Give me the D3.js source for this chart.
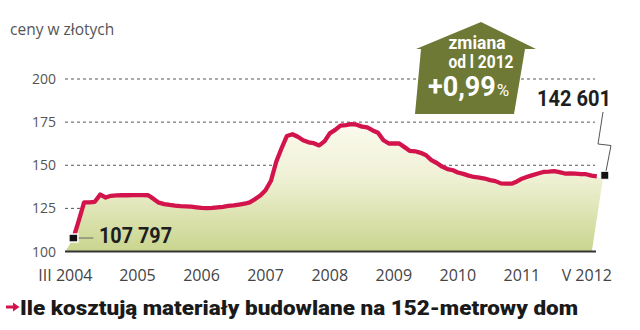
<!DOCTYPE html>
<html><head><meta charset="utf-8">
<script src="https://cdn.jsdelivr.net/npm/d3@7"></script>
<style>
html,body{margin:0;padding:0;background:#fff;}
svg{display:block;}
</style></head>
<body>
<svg id="chart" width="640" height="330"></svg>
<script>
// ---- data ----
const startMonth = "2004-03";
const endMonth = "2012-05";
const values = [107.8,118,128.5,128.5,128.8,133,131.3,132.3,132.5,132.6,
132.6,132.7,132.7,132.7,132.6,130.5,128.3,127.5,127,126.6,
126.3,126.2,126,125.6,125.3,125.2,125.3,125.6,125.9,126.4,
126.7,127.2,127.7,128.5,130.4,132.6,135.5,141,152,160,
167,168,166.5,164.5,163.3,162.8,161.5,164,168.5,170.5,
173,173.3,173.8,173.5,172.4,171.9,170.2,168.9,164.5,162.6,
162.6,162.6,160.5,158.3,158.1,157.2,155.8,153,151.3,149.2,
147.8,147.1,145.8,145,144,143.2,142.8,142.3,141.4,140.8,
139.5,139.4,139.3,140.6,142.2,143.3,144.3,145.2,146.1,146.3,
146.6,146,145.2,145.3,145.2,144.9,144.8,144,143.6];
const yTicks = [100,125,150,175,200];
const xTickDates = ["2004-03","2005-03","2006-03","2007-03","2008-03","2009-03","2010-03","2011-03","2012-05"];
const xTickLabels = ["III 2004","2005","2006","2007","2008","2009","2010","2011","V 2012"];
const startLabel = "107 797";
const endLabel = "142 601";
const yTitle = "ceny w złotych";
const title = "Ile kosztują materiały budowlane na 152-metrowy dom";
const badgeLines = ["zmiana","od l 2012"];
const badgeValue = "+0,99";

// ---- setup ----
const parse = d3.timeParse("%Y-%m");
const t0 = parse(startMonth), t1 = parse(endMonth);
const dates = d3.timeMonth.range(t0, d3.timeMonth.offset(t1,1));
const data = dates.map((d,i)=>({date:d, value:values[i]}));

const svg = d3.select("#chart");
const x = d3.scaleTime().domain([t0,t1]).range([73.4,596.8]);
const y = d3.scaleLinear().domain([100,200]).range([251.5,79]);

const RED = "#d3134b", OLIVE = "#6d7935", GREY = "#555";
const defs = svg.append("defs");
const grad = defs.append("linearGradient").attr("id","fillg")
  .attr("gradientUnits","userSpaceOnUse").attr("x1",0).attr("x2",0).attr("y1",y(175)).attr("y2",y(100));
grad.append("stop").attr("offset","0%").attr("stop-color","#fbfaf0");
grad.append("stop").attr("offset","45%").attr("stop-color","#eef0d2");
grad.append("stop").attr("offset","100%").attr("stop-color","#c9d58e");

// y title
svg.append("text").attr("x",10).attr("y",35).text(yTitle)
  .attr("font-family","'Open Sans',sans-serif").attr("font-size",15.5).attr("fill",GREY);

// gridlines
svg.append("g").selectAll("line").data(yTicks.filter(v=>v>100)).join("line")
  .attr("x1",65).attr("x2",595).attr("y1",d=>y(d)).attr("y2",d=>y(d))
  .attr("stroke","#555").attr("stroke-width",1).attr("stroke-dasharray","3,3");

// y labels
svg.append("g").selectAll("text").data(yTicks).join("text")
  .attr("x",56).attr("y",d=>y(d)+5).attr("text-anchor","end").text(d=>d)
  .attr("font-family","'Open Sans',sans-serif").attr("font-size",14).attr("fill",GREY);

// area
const last = data[data.length-1], first = data[0];
const pts = [[x(first.date)-8, y(100)]]
  .concat(data.map(d=>[x(d.date), y(d.value)]))
  .concat([[x(last.date)+6, y(last.value)+3],[x(last.date)-5, y(100)]]);
svg.append("path").attr("d", d3.line()(pts)+"Z").attr("fill","url(#fillg)");

// baseline
svg.append("line").attr("x1",65).attr("x2",596).attr("y1",y(100)).attr("y2",y(100))
  .attr("stroke","#333").attr("stroke-width",2.2);

// line
svg.append("path").datum(data)
  .attr("d", d3.line().x(d=>x(d.date)).y(d=>y(d.value)))
  .attr("fill","none").attr("stroke",RED).attr("stroke-width",4.3)
  .attr("stroke-linejoin","round");

// x labels
const xa = svg.append("g");
xTickDates.forEach((ds,i)=>{
  let dx = 0;
  if (i===0) dx = -8;
  if (i===xTickDates.length-1) dx = -10;
  xa.append("text").attr("x", x(parse(ds))+dx).attr("y",281).attr("text-anchor","middle")
    .text(xTickLabels[i]).attr("font-family","'Open Sans',sans-serif").attr("font-size",16).attr("fill","#444");
});

// start marker + label
const sx = x(first.date), sy = y(first.value);
svg.append("line").attr("x1",sx+4).attr("x2",sx+20).attr("y1",sy).attr("y2",sy).attr("stroke","#666").attr("stroke-width",1);
svg.append("rect").attr("x",sx-4.5).attr("y",sy-4).attr("width",9).attr("height",8)
  .attr("fill","#111").attr("stroke","#fff").attr("stroke-width",1.5);
svg.append("text").attr("x",99).attr("y",sy+5).text(startLabel)
  .attr("font-family","Roboto,sans-serif").attr("font-weight",700).attr("font-size",22)
  .attr("fill","#1e1e1e").attr("textLength",73).attr("lengthAdjust","spacingAndGlyphs");

// end marker + label with break line
const ex = x(last.date)+8, ey = y(last.value)-1;
svg.append("polyline").attr("points",[[603,112],[598,144],[611,145.5],[ex+1,ey-3]].map(p=>p.join(",")).join(" "))
  .attr("fill","none").attr("stroke","#555").attr("stroke-width",1);
svg.append("rect").attr("x",ex-4).attr("y",ey-4).attr("width",8).attr("height",8)
  .attr("fill","#111").attr("stroke","#fff").attr("stroke-width",1);
svg.append("text").attr("x",537).attr("y",106).text(endLabel)
  .attr("font-family","Roboto,sans-serif").attr("font-weight",700).attr("font-size",22)
  .attr("fill","#1e1e1e").attr("textLength",74).attr("lengthAdjust","spacingAndGlyphs");

// badge (house arrow)
const badge = [[481,22],[536,49],[525,49],[514,114],[415,114],[421,49],[416,49]];
svg.append("polygon").attr("points",badge.map(p=>p.join(",")).join(" ")).attr("fill",OLIVE);
svg.append("text").attr("x",477).attr("y",49).attr("text-anchor","middle").text(badgeLines[0])
  .attr("font-family","Roboto,sans-serif").attr("font-weight",700).attr("font-size",18).attr("fill","#fff")
  .attr("textLength",57).attr("lengthAdjust","spacingAndGlyphs");
svg.append("text").attr("x",481).attr("y",68).attr("text-anchor","middle").text(badgeLines[1])
  .attr("font-family","Roboto,sans-serif").attr("font-weight",700).attr("font-size",18).attr("fill","#fff")
  .attr("textLength",65).attr("lengthAdjust","spacingAndGlyphs");
const pct = svg.append("text").attr("x",428).attr("y",96)
  .attr("font-family","Roboto,sans-serif").attr("fill","#fff");
pct.append("tspan").attr("font-weight",700).attr("font-size",27).text(badgeValue);
pct.append("tspan").attr("font-weight",400).attr("font-size",17).attr("dx",1).text("%");

// title with arrow
svg.append("path").attr("d","M6,305.5 L13,305.5 L13,302.5 L19.5,307 L13,311.5 L13,308.5 L6,308.5 Z").attr("fill",RED);
svg.append("text").attr("x",20).attr("y",315).text(title)
  .attr("font-family","Roboto,sans-serif").attr("font-weight",900).attr("font-size",21)
  .attr("fill","#1a1a1a").attr("textLength",558).attr("lengthAdjust","spacingAndGlyphs");
</script>
</body></html>
